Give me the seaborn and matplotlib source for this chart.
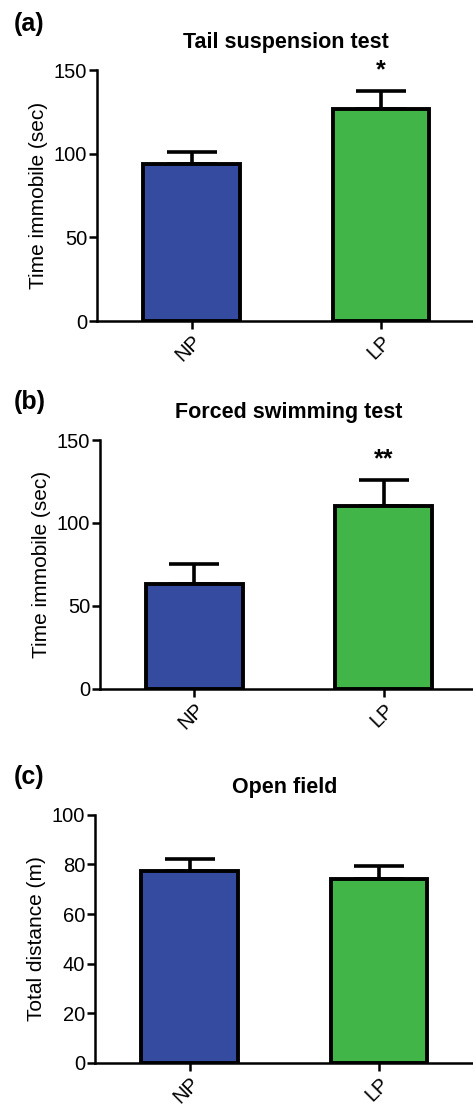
import pandas as pd
import matplotlib.pyplot as plt
import seaborn as sns

# data (mean, upper SEM)
groups = ["NP", "LP"]
colors = ["#344b9f", "#42b549"]

tst_mean = [94, 127]
tst_sem = [7, 10.5]

fst_mean = [63.5, 110]
fst_sem = [11.5, 16]

of_mean = [77.5, 74]
of_sem = [4.6, 5.5]

panels = [
    ("(a)", "Tail suspension test", "Time immobile (sec)", tst_mean, tst_sem, [0, 50, 100, 150], "*"),
    ("(b)", "Forced swimming test", "Time immobile (sec)", fst_mean, fst_sem, [0, 50, 100, 150], "**"),
    ("(c)", "Open field", "Total distance (m)", of_mean, of_sem, [0, 20, 40, 60, 80, 100], ""),
]

# axes boxes in figure fractions [left, bottom, width, height]
boxes = [
    [0.205, 0.7095, 0.80, 0.2271],
    [0.211, 0.3765, 0.80, 0.2253],
    [0.201, 0.0383, 0.80, 0.2242],
]
label_y = [0.978, 0.636, 0.297]

sns.set_style("ticks")
plt.rcParams['font.family'] = ['Liberation Sans', 'DejaVu Sans']
plt.rcParams.update({
    "text.color": "black",
    "axes.labelcolor": "black",
    "axes.edgecolor": "black",
    "xtick.color": "black",
    "ytick.color": "black",
})

fig = plt.figure(figsize=(4.73, 11.05), dpi=100)

for (tag, title, ylabel, means, sems, yticks, star), box, ly in zip(panels, boxes, label_y):
    ax = fig.add_axes(box)
    df = pd.DataFrame({"group": groups, "value": means})
    sns.barplot(data=df, x="group", y="value", hue="group", palette=colors,
                saturation=1, width=0.51, edgecolor="black", linewidth=2.8,
                errorbar=None, legend=False, ax=ax, zorder=3)
    ax.errorbar(range(len(groups)), means, yerr=[[0] * len(sems), sems],
                fmt="none", ecolor="black", elinewidth=2.6, capsize=18,
                capthick=2.6, zorder=2)
    ax.set_ylim(yticks[0], yticks[-1])
    ax.set_yticks(yticks)
    ax.set_xlim(-0.5, 1.5)
    ax.set_xlabel("")
    ax.set_ylabel(ylabel, fontsize=15, labelpad=4)
    ax.set_title(title, fontsize=15.5, fontweight="bold", pad=16)
    ax.tick_params(axis="y", labelsize=14.5, length=6, width=1.8, pad=1)
    ax.tick_params(axis="x", labelsize=14.5, length=6, width=1.8, pad=2)
    for lbl in ax.get_xticklabels():
        lbl.set_rotation(45)
        lbl.set_ha("right")
        lbl.set_va("top")
        lbl.set_rotation_mode("anchor")
    for s in ["left", "bottom"]:
        ax.spines[s].set_linewidth(1.8)
    sns.despine(ax=ax)
    if star:
        top = means[1] + sems[1]
        ax.annotate(star, xy=(1, top), xytext=(0, 15), textcoords="offset points",
                    ha="center", va="center", fontsize=18, fontweight="bold",
                    clip_on=False)
    fig.text(0.03, ly, tag, fontsize=18, fontweight="bold", ha="left", va="center")

fig.savefig("out.png", dpi=100)
